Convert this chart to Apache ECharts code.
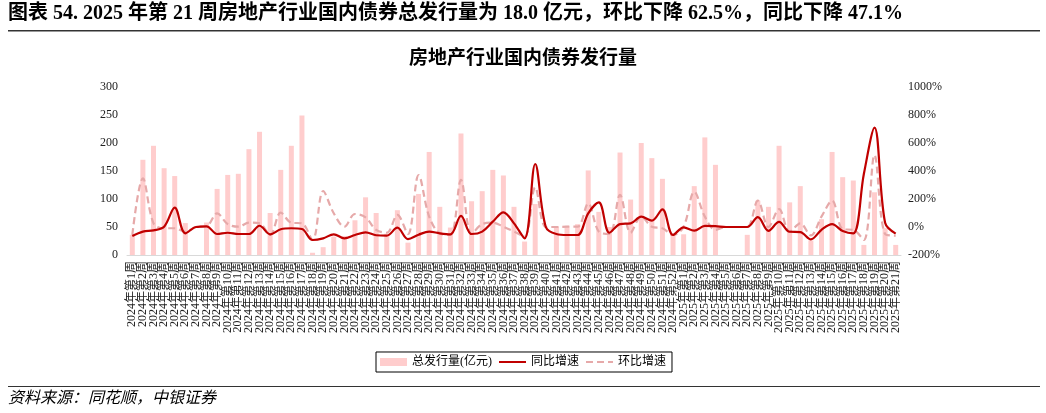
<!DOCTYPE html>
<html><head><meta charset="utf-8">
<script src="https://cdn.jsdelivr.net/npm/echarts@6/dist/echarts.min.js"></script>
<style>html,body{margin:0;padding:0;background:#fff}#c{width:1046px;height:413px}</style>
</head><body><div id="c"></div>
<script>
const categories = [
"2024年第1周","2024年第2周","2024年第3周","2024年第4周","2024年第5周","2024年第6周","2024年第7周","2024年第8周","2024年第9周","2024年第10周",
"2024年第11周","2024年第12周","2024年第13周","2024年第14周","2024年第15周","2024年第16周","2024年第17周","2024年第18周","2024年第19周","2024年第20周",
"2024年第21周","2024年第22周","2024年第23周","2024年第24周","2024年第25周","2024年第26周","2024年第27周","2024年第28周","2024年第29周","2024年第30周",
"2024年第31周","2024年第32周","2024年第33周","2024年第34周","2024年第35周","2024年第36周","2024年第37周","2024年第38周","2024年第39周","2024年第40周",
"2024年第41周","2024年第42周","2024年第43周","2024年第44周","2024年第45周","2024年第46周","2024年第47周","2024年第48周","2024年第49周","2024年第50周",
"2024年第51周","2024年第52周",
"2025年第1周","2025年第2周","2025年第3周","2025年第4周","2025年第5周","2025年第6周","2025年第7周","2025年第8周","2025年第9周","2025年第10周",
"2025年第11周","2025年第12周","2025年第13周","2025年第14周","2025年第15周","2025年第16周","2025年第17周","2025年第18周","2025年第19周","2025年第20周",
"2025年第21周"];

// 总发行量(亿元)
const issuance = [
36,170,195,155,141,57,0,58,118,143,
145,189,220,75,152,195,249,4,14,33,
34,62,103,75,38,80,22,109,184,86,
49,217,96,114,152,142,86,24,91,0,
51,52,55,151,77,50,183,99,200,173,
136,36,
37,123,210,161,0,0,36,97,86,195,
94,123,26,64,184,139,133,18,112,48,
18];

// 同比增速 (%)
const yoy = [
-64,-33,-24,2,138,-45,0,5,-50,-41,
-50,-50,9,-52,-16,-9,-14,-93,-81,-52,
-81,-57,-38,-59,-62,-5,-86,-55,-33,-45,
-52,79,-50,-33,38,105,26,-81,450,0,
-50,-57,-57,98,176,-41,21,26,74,45,
126,-57,
-2,-26,8,6,0,0,0,70,-27,37,
-34,-36,-88,-20,21,-29,-46,380,710,30,
-47];

// 环比增速 (%)
const mom = [
-57,348,26,-9,-9,-33,0,5,98,21,
2,31,26,-57,102,31,26,-93,257,98,
2,93,69,-21,-41,86,-50,371,74,-45,
-57,336,-50,21,31,2,-33,-69,283,0,
0,2,2,169,-33,-50,229,-40,74,2,
-9,-57,
2,252,74,-20,0,0,0,188,0,127,
-33,26,-60,74,188,-15,-21,-93,514,-50,
-62.5];

const leftTicks = {min:0, max:300, interval:50};
const rightTicks = {min:-200, max:1000, interval:200};

const serif = "'Liberation Serif','Noto Sans CJK SC',serif";
const chart = echarts.init(document.getElementById('c'), null, {renderer:'canvas'});
chart.setOption({
  animation:false,
  backgroundColor:'#fff',
  title:{
    text:'房地产行业国内债券发行量',
    left:'center', top:45,
    textStyle:{fontFamily:serif, fontSize:19, fontWeight:'bold', color:'#000'}
  },
  graphic:[
    {type:'text', left:8, top:4, style:{text:'图表 54. 2025 年第 21 周房地产行业国内债券总发行量为 18.0 亿元，环比下降 62.5%，同比下降 47.1%', font:"bold 20px "+serif, fill:'#000'}},
    {type:'rect', left:8, top:30, shape:{width:1032, height:1.5}, style:{fill:'#333'}},
    {type:'rect', left:8, top:386, shape:{width:1032, height:1}, style:{fill:'#333'}},
    {type:'text', left:8, top:391, style:{text:'资料来源：同花顺，中银证券', font:"italic 16px "+serif, fill:'#000'}}
  ],
  legend:{
    bottom:41, left:'center',
    itemWidth:27, itemHeight:8, itemGap:6,
    borderColor:'#000', borderWidth:1, padding:[4,6,4,4],
    textStyle:{fontFamily:serif, fontSize:12, color:'#000'},
    data:[
      {name:'总发行量(亿元)', icon:'rect'},
      {name:'同比增速', itemStyle:{opacity:0}},
      {name:'环比增速', itemStyle:{opacity:0}}
    ]
  },
  grid:{left:127, right:145, top:87, bottom:158},
  xAxis:{
    type:'category', data:categories, boundaryGap:true,
    axisLine:{lineStyle:{color:'#d9d9d9', width:1}},
    axisTick:{show:false},
    axisLabel:{interval:0, rotate:90, fontFamily:serif, fontSize:12, color:'#222', margin:6}
  },
  yAxis:[
    {type:'value', min:leftTicks.min, max:leftTicks.max, interval:leftTicks.interval,
     axisLine:{show:false}, axisTick:{show:false}, splitLine:{show:false},
     axisLabel:{fontFamily:serif, fontSize:12, color:'#222', margin:9}},
    {type:'value', min:rightTicks.min, max:rightTicks.max, interval:rightTicks.interval,
     axisLine:{show:false}, axisTick:{show:false}, splitLine:{show:false},
     axisLabel:{fontFamily:serif, fontSize:12, color:'#222', margin:7, formatter:function(v){return v+'%';}}}
  ],
  series:[
    {name:'总发行量(亿元)', type:'bar', data:issuance, barWidth:5, itemStyle:{color:'#ffcdcd'}},
    {name:'同比增速', type:'line', yAxisIndex:1, data:yoy, smooth:0.35, symbol:'none', showSymbol:false,
     lineStyle:{color:'#c00000', width:2.2}, itemStyle:{color:'#c00000'}, z:4},
    {name:'环比增速', type:'line', yAxisIndex:1, data:mom, smooth:0.35, symbol:'none', showSymbol:false,
     lineStyle:{color:'#e6a9a9', width:2.2, type:[7,4]}, itemStyle:{color:'#e6a9a9'}, z:3}
  ]
});
</script>
</body></html>
